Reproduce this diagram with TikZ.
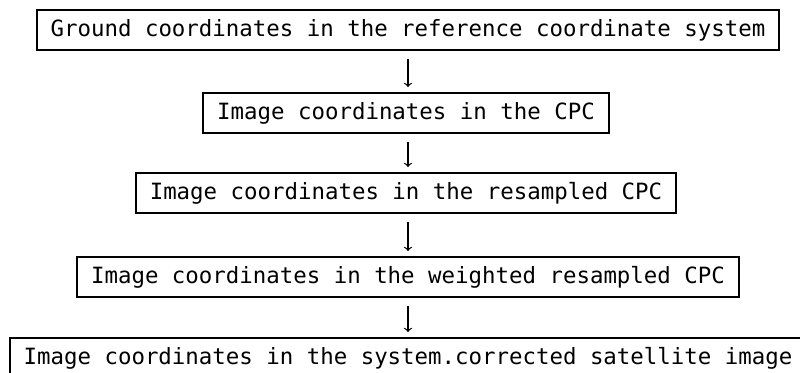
\documentclass[tikz,border=0pt]{standalone}
\usepackage{fontspec}
\newfontfamily\stagefont{DejaVu Sans Mono}
\usepackage{tikz}

\begin{document}
\begin{tikzpicture}[x=0.5pt, y=-0.5pt, >=to,
    stage/.style={draw, line width=0.9pt, inner xsep=7pt, minimum height=20pt,
      font=\stagefont\fontsize{11.2}{13}\selectfont}]
  \useasboundingbox (0,0) rectangle (800,373);

  % Cac hop chuyen doi toa do
  \node[stage] (ground) at (408,30) {Ground coordinates in the reference coordinate system};
  \node[stage] (cpc) at (406,113) {Image coordinates in the CPC};
  \node[stage] (resampled) at (406,193) {Image coordinates in the resampled CPC};
  \node[stage] (weighted) at (408,277) {Image coordinates in the weighted resampled CPC};
  \node[stage] (satimage) at (408,358) {Image coordinates in the system.corrected satellite image};

  % Mui ten noi cac hop
  \foreach \from/\to in {ground/cpc, cpc/resampled, resampled/weighted, weighted/satimage}
    \draw[->, line width=0.6pt, shorten <=4pt, shorten >=2.5pt] (\from.south -| ground) -- (\to.north -| ground);
\end{tikzpicture}
\end{document}
